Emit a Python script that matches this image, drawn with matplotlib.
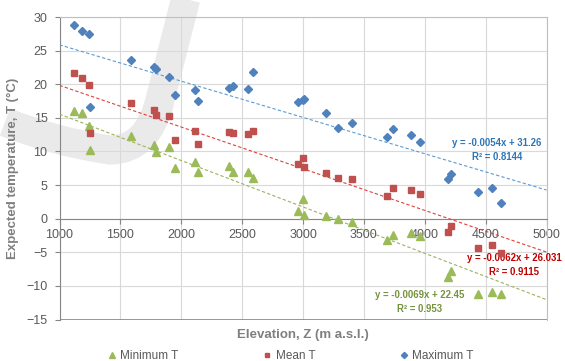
import numpy as np
import matplotlib
matplotlib.use("Agg")
import matplotlib.pyplot as plt
from matplotlib.path import Path
from matplotlib.patches import PathPatch

plt.rcParams['font.family'] = ['Liberation Sans Narrow', 'Liberation Sans', 'DejaVu Sans']

# station elevations (m a.s.l.) and temperatures
elevation = [1115, 1188, 1240, 1250, 1587, 1774, 1789, 1898, 1950, 2112,
             2134, 2393, 2429, 2547, 2593, 2962, 2998, 3005, 3190, 3287,
             3405, 3694, 3738, 3883, 3963, 4189, 4218, 4434, 4552, 4628]
t_max = [28.8, 27.9, 27.4, 16.6, 23.6, 22.5, 22.3, 21.1, 18.4, 19.1,
         17.5, 19.4, 19.8, 19.3, 21.8, 17.4, 17.6, 17.8, 15.7, 13.5,
         14.3, 12.2, 13.4, 12.5, 11.4, 5.9, 6.7, 4.0, 4.5, 2.4]
t_mean = [21.7, 21.0, 19.9, 12.7, 17.2, 16.2, 15.4, 15.2, 11.75, 13.0,
          11.15, 12.9, 12.75, 12.55, 13.0, 8.1, 9.05, 7.7, 6.8, 6.0,
          5.85, 3.4, 4.55, 4.25, 3.7, -1.95, -1.1, -4.3, -3.9, -5.1]
t_min = [16.0, 15.7, 13.8, 10.2, 12.35, 10.95, 9.85, 10.6, 7.6, 8.4,
         7.0, 7.9, 7.0, 7.0, 6.05, 1.2, 2.9, 0.5, 0.4, -0.1,
         -0.5, -3.2, -2.4, -2.2, -2.6, -8.65, -7.75, -11.25, -10.9, -11.2]

# trend line coefficients as printed on the chart (slope, intercept)
fit_max = (-0.0054, 31.26)
fit_mean = (-0.0062, 26.031)
fit_min = (-0.0069, 22.45)
eq_max = ["y = -0.0054x + 31.26", "R² = 0.8144"]
eq_mean = ["y = -0.0062x + 26.031", "R² = 0.9115"]
eq_min = ["y = -0.0069x + 22.45", "R² = 0.953"]

grey_txt = '#595959'
W, H = 565, 361

fig = plt.figure(figsize=(W / 100, H / 100), dpi=100)

# faint watermark behind the chart
bg = fig.add_axes([0, 0, 1, 1], zorder=0)
bg.set_xlim(0, W)
bg.set_ylim(H, 0)
bg.axis('off')
verts = [(188, -10), (160, 100), (148, 150), (110, 150), (55, 142), (5, 122)]
codes = [Path.MOVETO, Path.LINETO, Path.CURVE3, Path.CURVE3, Path.CURVE3, Path.CURVE3]
bg.add_patch(PathPatch(Path(verts, codes), fill=False, lw=21, color='#d6d6d6',
                       alpha=0.5, capstyle='butt'))

ax = fig.add_axes([59.5 / W, 1 - 319.5 / H, 487 / W, 302.5 / H], zorder=1)
ax.set_facecolor('none')

x_line = np.array([1000, 5000])
ax.plot(x_line, fit_max[0] * x_line + fit_max[1], ls=(0, (3, 2)), lw=0.8, color='#5b9bd5', zorder=3)
ax.plot(x_line, fit_mean[0] * x_line + fit_mean[1], ls=(0, (3, 2)), lw=0.8, color='#e0403c', zorder=3)
ax.plot(x_line, fit_min[0] * x_line + fit_min[1], ls=(0, (3, 2)), lw=0.8, color='#9bb25a', zorder=3)

ax.plot(elevation, t_min, ls='none', marker='^', ms=5.5, color='#9bbb59', label='Minimum T', zorder=4)
ax.plot(elevation, t_mean, ls='none', marker='s', ms=3.8, color='#c0504d', label='Mean T', zorder=4)
ax.plot(elevation, t_max, ls='none', marker='D', ms=4.2, color='#4f81bd', label='Maximum T', zorder=4)

ax.set_xlim(1000, 5000)
ax.set_ylim(-15, 30)
ax.set_xticks(range(1000, 5001, 500))
ax.set_yticks(range(-15, 31, 5))
ax.grid(True, color='#d9d9d9', lw=0.8)
ax.set_axisbelow(True)

ax.spines['bottom'].set_position(('data', 0))
ax.spines['bottom'].set_color('#868686')
ax.spines['left'].set_color('#868686')
for s in ['top', 'right']:
    ax.spines[s].set_color('#bfbfbf')
ax.axhline(-15, color='#868686', lw=1.2, zorder=2)
ax.tick_params(axis='both', colors='#868686', labelcolor=grey_txt, labelsize=9,
               length=3.6, width=0.8, direction='out')
ax.tick_params(axis='y', pad=5)

ax.set_xlabel('Elevation, Z (m a.s.l.)', fontsize=9.5, fontweight='bold', color='#7f7f7f')
ax.xaxis.set_label_coords(0.5, -0.03)
ax.set_ylabel('Expected temperature, T (°C)', fontsize=9.5, fontweight='bold', color='#7f7f7f')
ax.yaxis.set_label_coords(-0.083, 0.5)

def put_eq(lines, x, y, color):
    ax.text(x, y, lines[0], fontsize=6.9, fontweight='bold', color=color, ha='center', va='center')
    ax.text(x, y - 2.05, lines[1], fontsize=6.9, fontweight='bold', color=color, ha='center', va='center')

put_eq(eq_max, 4592, 11.25, '#2e75b6')
put_eq(eq_mean, 4735, -5.86, '#c00000')
put_eq(eq_min, 3956, -11.37, '#76923c')

fig.legend(loc='center', bbox_to_anchor=(291 / W, 1 - 356 / H), ncol=3, frameon=False,
           fontsize=8.5, labelcolor=grey_txt, handlelength=0.6, handletextpad=0.4,
           columnspacing=7.2, markerscale=0.75)

fig.savefig('out.png', dpi=100)
